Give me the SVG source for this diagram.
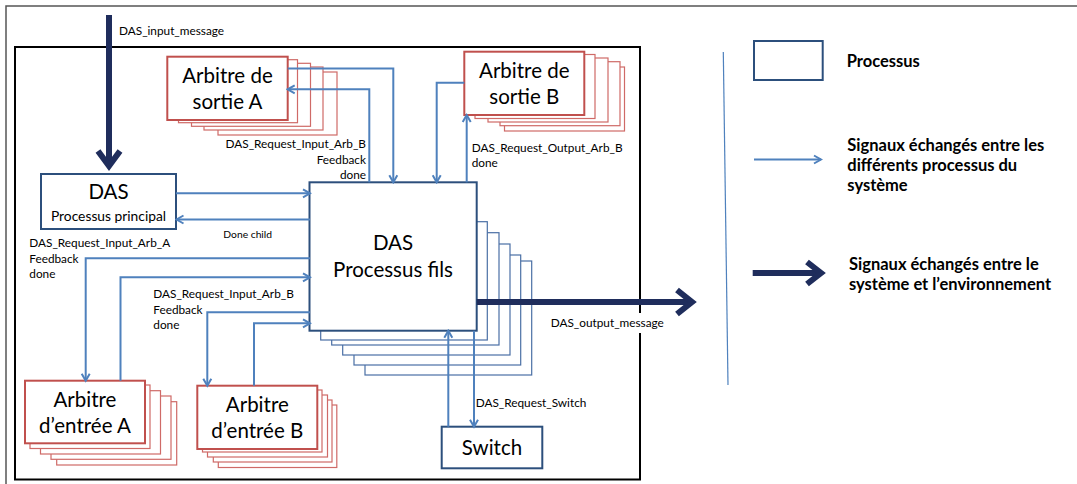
<svg xmlns="http://www.w3.org/2000/svg" width="1077" height="484" viewBox="0 0 1077 484">
<style>
text{font-family:Lato,"Liberation Sans",sans-serif;fill:#000}
.big{font-size:20.5px;text-anchor:middle}
.mid{font-size:13.8px;text-anchor:middle}
.lbl{font-size:11.8px}
.lblr{font-size:11.8px;text-anchor:end}
.small{font-size:10.3px}
.leg{font-size:16.5px;font-weight:bold}
.proc{fill:#fff;stroke:#2c4f7c;stroke-width:2}
.pcopy{fill:#fff;stroke:#4a6fa5;stroke-width:1.2}
.arb{fill:#fff;stroke:#c0504d;stroke-width:2}
.acopy{fill:#fff;stroke:#cf6a67;stroke-width:1.2}
.sig{fill:none;stroke:#4f81bd;stroke-width:2;marker-end:url(#ah)}
.env{fill:none;stroke:#1f2d5c;stroke-width:6}
</style>
<defs>
<marker id="ah" viewBox="-9 -6 11 12" refX="0" refY="0" markerWidth="11" markerHeight="12" markerUnits="userSpaceOnUse" orient="auto">
<path d="M-7,-4 L0,0 L-7,4" fill="none" stroke="#4f81bd" stroke-width="2"/>
</marker>
</defs>
<rect width="1077" height="484" fill="#fff"/>
<g id="border">
<path d="M6,484 V6 H1077" fill="none" stroke="#555" stroke-width="1.5"/>
</g>
<g id="system-frame">
<path d="M640,313 V47 H15 V479.5 H640 V333" fill="none" stroke="#000" stroke-width="2"/>
</g>

<g id="arbitre-sortie-a">
<rect class="acopy" x="218" y="72" width="119" height="63"/>
<rect class="acopy" x="204" y="67" width="119" height="63"/>
<rect class="acopy" x="191.5" y="63.3" width="119" height="63"/>
<rect class="acopy" x="178.5" y="59.7" width="119" height="63"/>
<rect class="arb" x="167.3" y="56.7" width="120.4" height="63.3"/>
<text class="big" x="227.5" y="83.3">Arbitre de</text>
<text class="big" x="227.5" y="109.3">sortie A</text>
</g>

<g id="arbitre-sortie-b">
<rect class="acopy" x="504.5" y="67" width="120" height="64"/>
<rect class="acopy" x="500" y="61.7" width="120" height="64"/>
<rect class="acopy" x="488" y="58" width="120" height="64"/>
<rect class="acopy" x="475" y="54.5" width="120" height="64"/>
<rect class="arb" x="464.3" y="51.7" width="120" height="63.3"/>
<text class="big" x="524.3" y="77.7">Arbitre de</text>
<text class="big" x="524.3" y="104">sortie B</text>
</g>

<g id="das-principal">
<rect class="proc" x="41" y="174" width="135" height="55"/>
<text class="big" x="108.5" y="199">DAS</text>
<text class="mid" x="108.5" y="220.7">Processus principal</text>
</g>

<g id="das-fils">
<rect class="pcopy" x="365" y="261" width="166.7" height="114"/>
<rect class="pcopy" x="354" y="255" width="166.7" height="110"/>
<rect class="pcopy" x="342.7" y="244" width="167.3" height="111"/>
<rect class="pcopy" x="331.7" y="232.7" width="167.3" height="112.3"/>
<rect class="pcopy" x="320.7" y="221.7" width="166.6" height="118.3"/>
<rect class="proc" x="309.5" y="182.3" width="167.2" height="148.4"/>
<text class="big" x="393" y="250">DAS</text>
<text class="big" x="393" y="276.7">Processus fils</text>
</g>

<g id="arbitre-entree-a">
<rect class="acopy" x="56.7" y="401.7" width="120" height="63.3"/>
<rect class="acopy" x="51" y="396" width="120" height="63.3"/>
<rect class="acopy" x="40.5" y="390.7" width="120" height="63.3"/>
<rect class="acopy" x="30" y="385" width="120" height="63.5"/>
<rect class="arb" x="25" y="380.7" width="120" height="62.6"/>
<text class="big" x="85" y="406.7">Arbitre</text>
<text class="big" x="85" y="433.3">d’entrée A</text>
</g>

<g id="arbitre-entree-b">
<rect class="acopy" x="218.3" y="405" width="118.5" height="62.5"/>
<rect class="acopy" x="213.3" y="400" width="118.7" height="62"/>
<rect class="acopy" x="207.5" y="395" width="120" height="62"/>
<rect class="acopy" x="202.5" y="390" width="119.5" height="62"/>
<rect class="arb" x="197.3" y="385.7" width="120" height="63.3"/>
<text class="big" x="257.3" y="411.7">Arbitre</text>
<text class="big" x="257.3" y="438.3">d’entrée B</text>
</g>

<g id="switch">
<rect class="proc" x="441.7" y="426.7" width="100.6" height="41.6"/>
<text class="big" x="492" y="455">Switch</text>
</g>

<g id="connectors">
<path class="sig" d="M176,193.3 H310"/>
<path class="sig" d="M310,219.5 H176.5"/>
<path class="sig" d="M310,258.3 H85.7 V380.7"/>
<path class="sig" d="M120.5,380.7 V277.3 H310"/>
<path class="sig" d="M310,312.3 H207.3 V385.7"/>
<path class="sig" d="M254,385.7 V323.3 H310"/>
<path class="sig" d="M287.7,68.5 H393.3 V182.3"/>
<path class="sig" d="M369.3,182.3 V89.3 H287.7"/>
<path class="sig" d="M464.3,82.7 H436.7 V182.3"/>
<path class="sig" d="M466.7,182.3 V115"/>
<path class="sig" d="M448.3,426.7 V330.7"/>
<path class="sig" d="M474,330.7 V426.7"/>
<path class="env" d="M109,15 V166"/>
<polyline class="env" points="98,151 109,166 120,151"/>
<path class="env" d="M476.7,302 H691"/>
<polyline class="env" points="677,290 692,302 677,314"/>
</g>

<g id="labels">
<text class="lbl" x="119" y="35">DAS_input_message</text>
<text class="lblr" x="366" y="148.3">DAS_Request_Input_Arb_B</text>
<text class="lblr" x="366" y="163.5">Feedback</text>
<text class="lblr" x="366" y="178.5">done</text>
<text class="lbl" x="471.7" y="151.7">DAS_Request_Output_Arb_B</text>
<text class="lbl" x="471.7" y="166.7">done</text>
<text class="small" x="223.3" y="237.5">Done child</text>
<text class="lbl" x="29.3" y="247.3">DAS_Request_Input_Arb_A</text>
<text class="lbl" x="29.3" y="262.7">Feedback</text>
<text class="lbl" x="29.3" y="277.7">done</text>
<text class="lbl" x="153.3" y="298.3">DAS_Request_Input_Arb_B</text>
<text class="lbl" x="153.3" y="314">Feedback</text>
<text class="lbl" x="153.3" y="329">done</text>
<text class="lbl" x="550.7" y="327.3">DAS_output_message</text>
<text class="lbl" x="475.7" y="406.7">DAS_Request_Switch</text>
</g>

<g id="legend">
<path d="M723.3,52 L728,385" fill="none" stroke="#4f81bd" stroke-width="1.2"/>
<rect x="754" y="41" width="68.7" height="39" fill="#fff" stroke="#2c4f7c" stroke-width="2"/>
<text class="leg" x="846.7" y="66.7">Processus</text>
<path class="sig" d="M754,159.5 H821"/>
<text class="leg" x="847.3" y="150.5">Signaux échangés entre les</text>
<text class="leg" x="847.3" y="171">différents processus du</text>
<text class="leg" x="847.3" y="190.5">système</text>
<path class="env" d="M752.7,273 H820"/>
<polyline class="env" points="807,262 821,273 807,284"/>
<text class="leg" x="849" y="270">Signaux échangés entre le</text>
<text class="leg" x="849" y="290">système et l’environnement</text>
</g>
</svg>
